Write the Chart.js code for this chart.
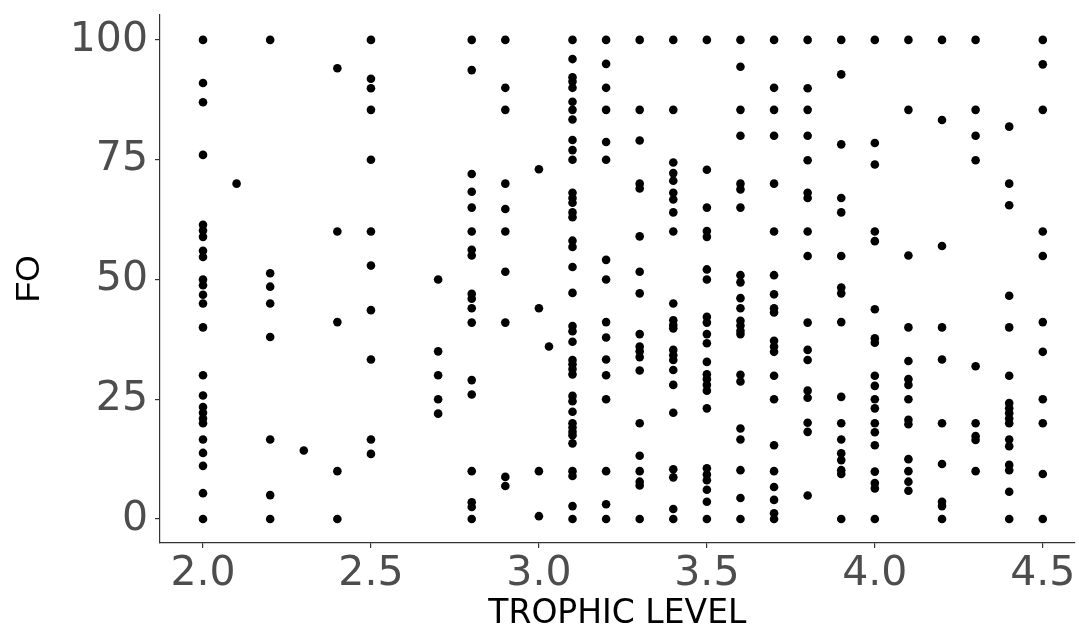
<!DOCTYPE html>
<html>
<head>
<meta charset="utf-8">
<script src="https://cdn.jsdelivr.net/npm/chart.js@4.4.1/dist/chart.umd.min.js"></script>
<style>
  html, body { margin: 0; padding: 0; background: #ffffff; }
  #wrap { width: 1079px; height: 634px; }
</style>
</head>
<body>
<div id="wrap"><canvas id="c" width="1079" height="634"></canvas></div>
<script>
// Trophic levels (x) and frequency of occurrence FO (y) values
const levels = [2.0, 2.1, 2.2, 2.3, 2.4, 2.5, 2.7, 2.8, 2.9, 3.0, 3.03, 3.1, 3.2, 3.3, 3.4, 3.5, 3.6, 3.7, 3.8, 3.9, 4.0, 4.1, 4.2, 4.3, 4.4, 4.5];

const fo_2_0 = [100, 91, 87, 76, 61.4, 60.2, 58.9, 56, 54.7, 50, 48.8, 46.8, 45, 40, 30, 25.8, 23.4, 22.2, 21, 20, 16.6, 13.8, 11.1, 5.4, 0];
const fo_2_1 = [70];
const fo_2_2 = [100, 51.3, 48.5, 45, 38, 16.6, 5, 0];
const fo_2_3 = [14.3];
const fo_2_4 = [94.1, 60, 41.1, 10, 0];
const fo_2_5 = [100, 91.9, 89.9, 85.4, 75, 60, 52.9, 43.6, 33.3, 16.6, 13.6];
const fo_2_7 = [50, 35, 30, 25, 22];
const fo_2_8 = [100, 93.7, 72, 68.3, 65, 60, 56.2, 55, 47, 46, 44, 41, 29, 26, 10, 3.5, 2.5, 0];
const fo_2_9 = [100, 90, 85.4, 70, 64.7, 60, 51.6, 41, 8.8, 6.9];
const fo_3_0 = [73, 44, 10, 0.6];
const fo_3_03 = [36];
const fo_3_1 = [100, 96, 92.2, 91.3, 90, 87.1, 85.4, 83.4, 79.1, 77, 75, 68.1, 67, 66, 64, 63, 58.1, 56.8, 52.6, 47.2, 40.3, 39.2, 37, 33.2, 32.3, 31.3, 30.2, 25.7, 24.6, 22.4, 20, 19.1, 18.2, 17.5, 15.8, 10, 9, 2.7, 0];
const fo_3_2 = [100, 95, 90, 85.4, 78.7, 75, 54.1, 50, 41.1, 37.9, 33.3, 30, 25, 10, 3.1, 0];
const fo_3_3 = [100, 85.4, 79, 70, 69, 59, 51.6, 47.1, 38.6, 36, 35, 33.8, 31, 20, 13.2, 10, 7.8, 7, 0];
const fo_3_4 = [100, 85.4, 74.4, 72.2, 70.6, 68.1, 66.7, 64, 60, 45, 41.5, 40.5, 39.8, 35.3, 34.2, 33.2, 31.1, 28, 22.2, 10.4, 8.7, 2.1, 0];
const fo_3_5 = [100, 72.9, 65, 60.1, 58.9, 52.1, 50, 42.2, 41, 38.6, 36.7, 32.8, 30.2, 29.2, 28, 26.8, 23.1, 10.6, 9.3, 8.1, 6.1, 3.6, 0];
const fo_3_6 = [100, 94.4, 85.4, 80, 70, 68.8, 65, 50.9, 49.4, 46.1, 44, 41.4, 40.4, 39.3, 38.6, 30.1, 28.7, 18.9, 16.6, 10.2, 4.4, 0];
const fo_3_7 = [100, 90, 85.4, 80, 70, 60, 50.9, 46.9, 44, 43.1, 37.2, 36, 34.9, 29.9, 25, 15.4, 10, 6.7, 4, 1.2, 0];
const fo_3_8 = [100, 89.9, 85.4, 80, 74.9, 68.1, 67, 60, 54.9, 41, 35.3, 33.2, 26.8, 25.3, 20.1, 18.2, 4.9];
const fo_3_9 = [100, 92.8, 78.2, 67, 64, 54.9, 48.3, 47.1, 41.1, 25.5, 20, 16.6, 13.7, 12.3, 10.2, 9.4, 0];
const fo_4_0 = [100, 78.5, 74, 60, 58, 43.8, 37.7, 36.8, 29.9, 27.8, 25, 23.1, 20, 18.1, 15.4, 9.9, 7.5, 6.4, 0];
const fo_4_1 = [100, 85.4, 55, 40, 33, 29.2, 28, 25, 20.7, 19.8, 12.5, 10, 7.8, 5.9];
const fo_4_2 = [100, 83.3, 57, 40, 33.3, 20, 11.5, 3.6, 2.7, 0];
const fo_4_3 = [100, 85.4, 80, 74.9, 31.9, 20, 17.3, 16.5, 10];
const fo_4_4 = [81.9, 70, 65.5, 46.6, 40, 29.9, 24.2, 23.1, 22.1, 21, 20, 16.6, 15.2, 11.3, 10.2, 5.7, 0];
const fo_4_5 = [100, 94.9, 85.4, 60, 54.9, 41.1, 34.9, 25, 20, 9.4, 0];

const foByLevel = [fo_2_0, fo_2_1, fo_2_2, fo_2_3, fo_2_4, fo_2_5, fo_2_7, fo_2_8, fo_2_9, fo_3_0, fo_3_03, fo_3_1, fo_3_2, fo_3_3, fo_3_4, fo_3_5, fo_3_6, fo_3_7, fo_3_8, fo_3_9, fo_4_0, fo_4_1, fo_4_2, fo_4_3, fo_4_4, fo_4_5];

const xTicks = [2.0, 2.5, 3.0, 3.5, 4.0, 4.5];
const yTicks = [0, 25, 50, 75, 100];
const xTitle = 'TROPHIC LEVEL';
const yTitle = 'FO';

const points = [];
levels.forEach((lv, i) => foByLevel[i].forEach(v => points.push({ x: lv, y: v })));

const axisColor = '#333333';
const tickColor = '#4d4d4d';

new Chart(document.getElementById('c'), {
  type: 'scatter',
  data: {
    datasets: [{
      data: points,
      backgroundColor: '#000000',
      borderWidth: 0,
      pointRadius: 4.3,
      pointHoverRadius: 4.3
    }]
  },
  options: {
    responsive: false,
    animation: false,
    devicePixelRatio: 1,
    layout: { padding: { top: 15, left: 0, right: 0, bottom: 0 } },
    plugins: { legend: { display: false }, tooltip: { enabled: false } },
    scales: {
      x: {
        type: 'linear',
        min: 1.872,
        max: 4.595,
        afterBuildTicks: s => { s.ticks = xTicks.map(v => ({ value: v })); },
        afterFit: s => { s.height = 91; s.paddingLeft = 0; s.paddingRight = 0; },
        border: { display: true, color: axisColor, width: 1.2 },
        grid: { display: true, drawOnChartArea: false, drawTicks: true, tickLength: 5, color: axisColor, lineWidth: 1.2 },
        ticks: {
          color: tickColor,
          padding: 2,
          font: { family: 'DejaVu Sans', size: 41 },
          maxRotation: 0,
          callback: v => Number(v).toFixed(1)
        },
        title: {
          display: true,
          text: xTitle,
          color: '#000000',
          font: { family: 'DejaVu Sans', size: 33 },
          padding: { top: 0, bottom: 0 }
        }
      },
      y: {
        type: 'linear',
        min: -5,
        max: 105.2,
        afterBuildTicks: s => { s.ticks = yTicks.map(v => ({ value: v })); },
        afterFit: s => { s.width = 160; s.paddingTop = 0; s.paddingBottom = 0; },
        border: { display: true, color: axisColor, width: 1.2 },
        grid: { display: true, drawOnChartArea: false, drawTicks: true, tickLength: 5, color: axisColor, lineWidth: 1.2 },
        ticks: {
          color: tickColor,
          padding: 7,
          font: { family: 'DejaVu Sans', size: 41 },
          callback: v => String(v)
        },
        title: {
          display: true,
          text: yTitle,
          color: '#000000',
          font: { family: 'Liberation Sans', size: 34 },
          padding: { top: 9, bottom: 0 }
        }
      }
    }
  }
});
</script>
</body>
</html>
